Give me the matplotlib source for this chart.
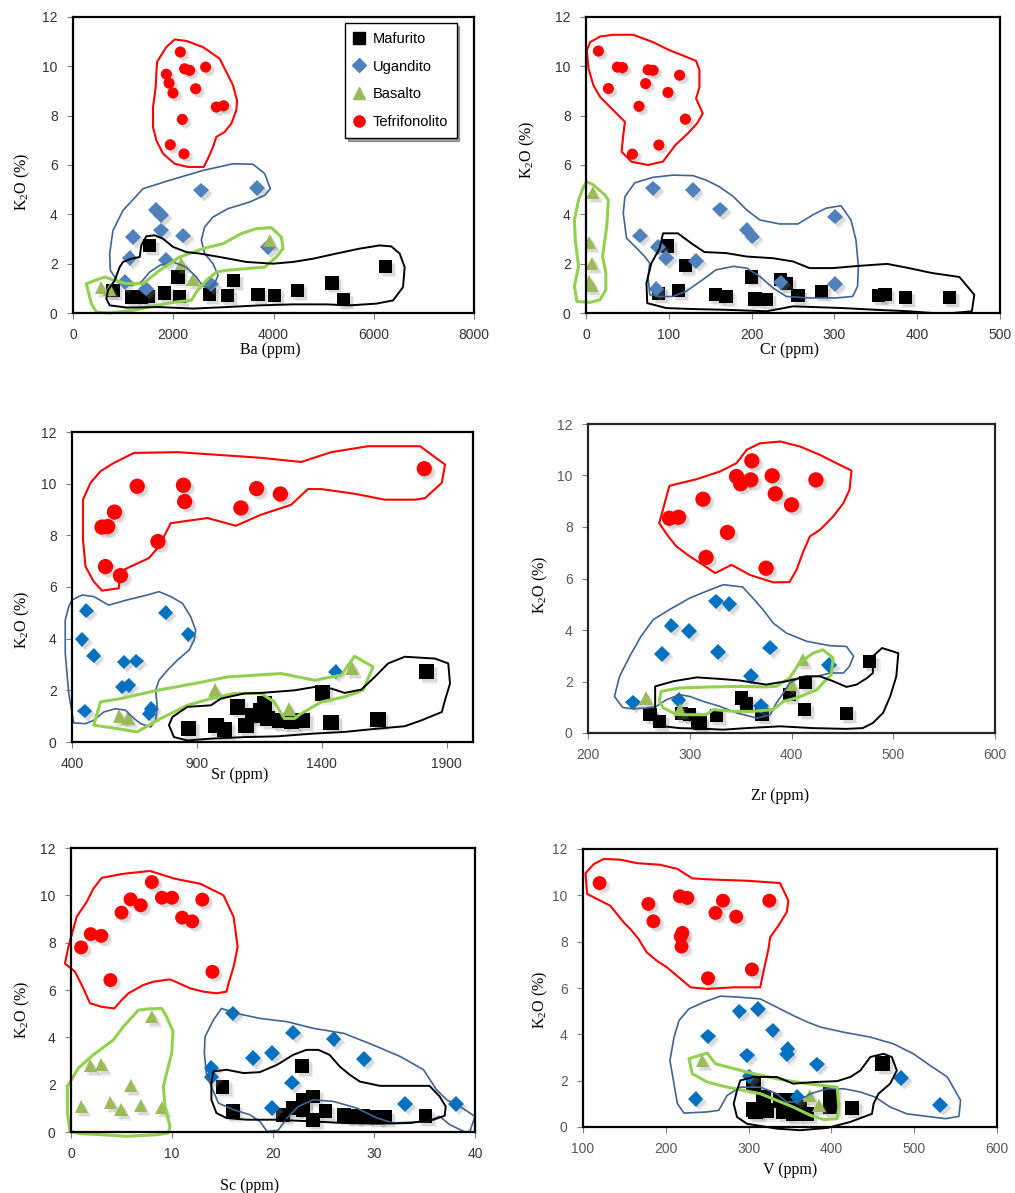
import matplotlib
matplotlib.use('Agg')
import matplotlib.pyplot as plt
import matplotlib.patheffects as pe
from matplotlib.patches import Polygon
from matplotlib.lines import Line2D

plt.rcParams['font.family'] = 'Liberation Sans'
plt.rcParams['mathtext.fontset'] = 'custom'
plt.rcParams['mathtext.rm'] = 'Liberation Serif'

# ---------------- Ba panel ----------------
ba_mafurito = [(1529, 2.74), (798, 0.92), (1164, 0.65), (1363, 0.65), (1496, 0.68), (1829, 0.81),
               (2094, 1.46), (2128, 0.68), (2726, 0.76), (3078, 0.72), (3205, 1.32), (3690, 0.76),
               (4023, 0.72), (4475, 0.92), (5166, 1.22), (5399, 0.54), (6237, 1.89)]
ba_ugandito = [(2560, 4.97), (3677, 5.07), (1662, 4.19), (1762, 3.96), (1762, 3.35), (1197, 3.08),
               (2194, 3.14), (1130, 2.23), (1862, 2.14), (1031, 1.26), (1463, 0.99), (2759, 1.16),
               (3890, 2.68)]
ba_basalto = [(565, 1.03), (731, 0.95), (2161, 2.0), (2394, 1.35), (3923, 2.95)]
ba_tefri = [(2141, 10.58), (2227, 9.9), (2327, 9.84), (2646, 9.97), (1862, 9.68), (1915, 9.32),
            (1995, 8.92), (2447, 9.09), (2859, 8.35), (3005, 8.4), (2181, 7.85), (1941, 6.82),
            (2214, 6.45)]
ba_line_red = [(2028, 11.09), (2261, 11.03), (2594, 10.78), (2926, 10.31), (3059, 9.77), (3192, 9.23),
               (3272, 8.62), (3259, 8.22), (3159, 7.68), (3026, 7.34), (2860, 7.14), (2793, 6.73),
               (2693, 6.26), (2607, 5.92), (2294, 5.92), (2028, 6.05), (1796, 6.46), (1663, 7.0),
               (1596, 7.54), (1596, 8.35), (1649, 9.16), (1676, 10.18), (1862, 10.78)]
ba_line_blue = [(1397, 5.04), (1929, 5.38), (2594, 5.78), (3192, 6.05), (3591, 6.03), (3824, 5.65),
                (3937, 5.04), (3824, 4.77), (3525, 4.5), (3092, 4.23), (2793, 3.89), (2627, 3.49),
                (2560, 2.95), (2627, 2.41), (2793, 2.0), (2893, 1.53), (2826, 1.19), (2727, 0.99),
                (2594, 1.08), (2461, 1.46), (2261, 1.86), (1995, 2.07), (1729, 1.93), (1530, 1.66),
                (1363, 1.26), (1164, 1.12), (898, 1.26), (745, 1.73), (731, 2.41), (798, 3.35),
                (998, 4.16)]
ba_line_green = [(266, 1.19), (632, 1.46), (831, 1.32), (1064, 1.19), (1397, 1.19), (1729, 1.73),
                 (2128, 2.27), (2594, 2.61), (2993, 2.81), (3358, 3.22), (3658, 3.42), (3957, 3.46),
                 (4156, 3.08), (4190, 2.61), (4057, 2.27), (3824, 1.86), (3458, 1.80), (3059, 1.73),
                 (2860, 1.66), (2660, 1.32), (2461, 0.85), (2361, 0.51), (2062, 0.45), (1663, 0.31),
                 (1197, 0.11), (731, 0.0), (466, 0.04), (366, 0.38)]
ba_line_black = [(665, 0.58), (731, 0.31), (1064, 0.22), (1729, 0.24), (2394, 0.18), (3059, 0.24),
                 (3724, 0.31), (4389, 0.35), (5054, 0.35), (5520, 0.31), (6052, 0.38), (6384, 0.51),
                 (6584, 1.05), (6617, 1.86), (6517, 2.41), (6351, 2.70), (6118, 2.74), (5719, 2.61),
                 (5254, 2.41), (4788, 2.20), (4389, 2.07), (3990, 2.0), (3458, 2.07), (2926, 2.27),
                 (2527, 2.41), (2261, 2.47), (1995, 2.68), (1796, 3.01), (1629, 3.15), (1463, 3.11),
                 (1363, 2.74), (1330, 2.27), (1164, 2.20), (998, 2.07), (931, 1.86), (831, 1.32),
                 (698, 0.92)]

# ---------------- Cr panel ----------------
cr_mafurito = [(98, 2.72), (120, 1.91), (112, 0.9), (88, 0.8), (156, 0.74), (169, 0.67), (200, 1.46),
               (204, 0.57), (218, 0.54), (235, 1.35), (242, 1.19), (256, 0.7), (284, 0.88), (353, 0.7),
               (361, 0.74), (386, 0.63), (439, 0.63)]
cr_ugandito = [(81, 5.05), (129, 4.99), (162, 4.2), (194, 3.37), (201, 3.1), (301, 3.91), (65, 3.14),
               (87, 2.67), (97, 2.22), (133, 2.12), (85, 0.97), (235, 1.24), (301, 1.17)]
cr_basalto = [(8, 4.88), (4, 2.87), (7, 2.02), (4, 1.28), (6, 1.1)]
cr_tefri = [(15, 10.62), (38, 9.97), (44, 9.95), (75, 9.86), (81, 9.84), (113, 9.64), (27, 9.1),
            (72, 9.3), (99, 8.94), (64, 8.38), (120, 7.86), (88, 6.81), (56, 6.44)]
cr_line_red = [(1, 10.65), (5, 10.98), (17, 11.21), (33, 11.28), (57, 11.28), (81, 10.98), (101, 10.65),
               (117, 10.44), (133, 10.22), (137, 9.84), (137, 9.16), (133, 8.69), (141, 8.09),
               (134, 7.68), (123, 7.28), (108, 6.81), (93, 6.14), (75, 6.0), (55, 6.13), (43, 6.54),
               (45, 7.21), (47, 7.75), (33, 8.22), (17, 8.76), (9, 9.23), (3, 9.91)]
cr_line_blue = [(47, 4.72), (59, 5.28), (81, 5.5), (105, 5.59), (129, 5.57), (145, 5.39), (161, 5.12),
                (178, 4.72), (194, 4.18), (210, 3.77), (234, 3.61), (256, 3.61), (274, 3.98),
                (290, 4.25), (308, 4.35), (320, 3.77), (326, 2.96), (329, 1.89), (328, 1.08),
                (322, 0.67), (302, 0.61), (270, 0.61), (242, 0.67), (226, 1.01), (210, 1.48),
                (194, 1.82), (178, 1.89), (157, 1.75), (141, 1.35), (121, 0.88), (105, 0.67),
                (89, 0.67), (77, 0.74), (75, 1.48), (77, 2.02), (71, 2.29), (59, 2.7), (49, 3.03),
                (45, 4.04)]
cr_line_green = [(1, 5.32), (9, 5.19), (23, 4.78), (27, 4.58), (25, 3.5), (20, 2.29), (24, 1.62),
                 (24, 0.94), (17, 0.54), (5, 0.43), (-11, 0.47), (-14, 1.08), (-9, 1.89), (-13, 2.96),
                 (-14, 3.77), (-9, 4.58), (-3, 5.12)]
cr_line_black = [(89, 2.63), (93, 3.23), (111, 3.23), (127, 2.83), (143, 2.47), (169, 2.43),
                 (194, 2.29), (226, 2.22), (250, 2.09), (270, 1.82), (298, 1.82), (322, 1.89),
                 (346, 1.95), (364, 1.99), (390, 1.82), (418, 1.62), (451, 1.46), (469, 0.74),
                 (466, 0.07), (443, 0.0), (418, 0.0), (390, 0.07), (350, 0.13), (310, 0.2), (250, 0.27),
                 (218, 0.07), (169, 0.13), (129, 0.16), (97, 0.2), (74, 0.4), (73, 1.21), (79, 2.02)]

# ---------------- Sr panel ----------------
sr_mafurito = [(1819, 2.72), (1404, 1.9), (1625, 0.88), (1437, 0.75), (1324, 0.84), (1278, 0.78),
               (1231, 0.84), (1183, 0.91), (1157, 1.23), (1170, 1.49), (1123, 1.03), (1096, 0.65),
               (1063, 1.36), (1009, 0.49), (976, 0.65), (866, 0.52)]
sr_ugandito = [(458, 5.08), (775, 5.0), (865, 4.17), (440, 3.97), (487, 3.34), (608, 3.1), (658, 3.14),
               (601, 2.13), (627, 2.2), (451, 1.2), (708, 1.1), (717, 1.29), (1455, 2.72)]
sr_basalto = [(590, 1.0), (623, 0.94), (972, 2.0), (1268, 1.29), (1521, 2.85)]
sr_tefri = [(1810, 10.58), (661, 9.9), (846, 9.94), (851, 9.31), (1139, 9.81), (1234, 9.6), (1076, 9.06),
            (570, 8.9), (520, 8.32), (543, 8.34), (744, 7.76), (534, 6.79), (594, 6.44)]
sr_line_red = [(444, 9.38), (474, 10.03), (514, 10.48), (567, 10.8), (648, 11.19), (822, 11.22),
               (1023, 11.09), (1157, 11.0), (1317, 10.84), (1438, 11.22), (1585, 11.45), (1793, 11.45),
               (1893, 10.74), (1880, 10.03), (1813, 9.44), (1773, 9.38), (1652, 9.38), (1531, 9.61),
               (1398, 9.79), (1344, 9.79), (1277, 9.18), (1157, 8.8), (1056, 8.37), (942, 8.67),
               (795, 8.47), (748, 7.57), (708, 7.12), (634, 6.79), (594, 6.6), (587, 5.95), (520, 5.86),
               (487, 6.21), (454, 6.79), (444, 7.83)]
sr_line_blue = [(400, 5.5), (440, 5.69), (487, 5.63), (547, 5.3), (621, 5.5), (701, 5.69), (748, 5.82),
                (795, 5.63), (842, 5.37), (875, 4.85), (895, 4.33), (889, 3.95), (869, 3.56), (822, 3.17),
                (782, 2.78), (748, 2.39), (735, 2.01), (741, 1.36), (735, 0.84), (715, 0.58), (675, 0.71),
                (648, 0.91), (614, 1.23), (574, 1.29), (527, 1.16), (487, 0.84), (454, 0.71), (407, 0.74),
                (387, 1.88), (373, 3.43), (373, 4.72), (387, 5.24)]
sr_line_green = [(487, 0.65), (514, 1.55), (594, 1.68), (741, 2.0), (889, 2.26), (1023, 2.52),
                 (1237, 2.65), (1371, 2.39), (1478, 2.59), (1531, 3.32), (1605, 2.91), (1565, 2.0),
                 (1491, 1.75), (1398, 1.55), (1317, 1.1), (1290, 0.91), (1250, 0.91), (1210, 1.55),
                 (1157, 1.88), (1049, 1.88), (956, 1.68), (862, 1.42), (755, 0.91), (661, 0.39),
                 (581, 0.52)]
sr_line_black = [(788, 0.65), (802, 0.97), (862, 1.36), (956, 1.42), (996, 1.68), (1090, 1.88),
                 (1157, 1.9), (1290, 2.0), (1371, 2.13), (1438, 2.07), (1491, 1.9), (1558, 2.03),
                 (1612, 2.52), (1665, 3.04), (1732, 3.3), (1853, 3.23), (1906, 3.04), (1913, 2.26),
                 (1893, 1.62), (1880, 1.16), (1799, 0.84), (1732, 0.61), (1625, 0.52), (1491, 0.39),
                 (1357, 0.32), (1223, 0.22), (1090, 0.19), (956, 0.13), (862, 0.06), (808, 0.19)]

# ---------------- Zr panel ----------------
zr_mafurito = [(261, 0.71), (270, 0.45), (292, 0.75), (300, 0.71), (308, 0.45), (310, 0.39), (326, 0.67),
               (351, 1.36), (356, 1.16), (371, 0.71), (398, 1.49), (414, 1.97), (413, 0.91), (454, 0.75),
               (477, 2.78)]
zr_ugandito = [(326, 5.11), (339, 5.01), (282, 4.17), (299, 3.95), (273, 3.08), (328, 3.14), (379, 3.32),
               (360, 2.2), (437, 2.65), (244, 1.19), (289, 1.27), (370, 1.06)]
zr_basalto = [(257, 1.36), (290, 0.91), (411, 2.85), (400, 1.9)]
zr_tefri = [(361, 10.57), (346, 9.96), (350, 9.68), (360, 9.83), (381, 9.99), (424, 9.83), (384, 9.29),
            (400, 8.86), (313, 9.08), (280, 8.34), (289, 8.38), (337, 7.79), (316, 6.82), (375, 6.4)]
zr_line_red = [(270, 8.15), (280, 9.6), (307, 9.86), (330, 10.16), (346, 10.48), (356, 11.0), (369, 11.25),
               (389, 11.32), (408, 11.13), (428, 10.8), (444, 10.48), (459, 10.19), (457, 9.44),
               (451, 8.93), (441, 8.41), (428, 7.89), (418, 7.63), (411, 6.99), (405, 6.34), (398, 5.86),
               (382, 5.85), (359, 6.14), (341, 6.53), (325, 6.21), (313, 6.53), (300, 6.86), (287, 7.24),
               (279, 7.63)]
zr_line_blue = [(226, 1.42), (231, 2.2), (241, 2.98), (252, 3.75), (264, 4.4), (280, 4.79), (300, 5.24),
                (316, 5.5), (333, 5.76), (352, 5.67), (362, 5.24), (372, 4.79), (382, 4.27), (395, 3.88),
                (415, 3.56), (438, 3.39), (454, 3.36), (461, 2.98), (457, 2.59), (451, 2.33), (438, 2.33),
                (425, 2.2), (411, 2.2), (398, 1.94), (392, 1.55), (385, 1.16), (379, 0.71), (366, 0.58),
                (346, 0.78), (330, 1.03), (313, 1.23), (300, 1.42), (290, 1.49), (277, 1.29), (267, 1.03),
                (257, 0.97), (244, 0.94), (234, 0.99)]
zr_line_green = [(272, 1.62), (290, 1.75), (323, 1.79), (349, 1.81), (372, 1.79), (385, 1.81), (398, 2.13),
                 (408, 2.72), (421, 3.1), (431, 3.23), (441, 2.91), (439, 2.26), (431, 1.94), (425, 1.68),
                 (405, 1.36), (392, 1.23), (382, 0.91), (362, 0.84), (343, 0.84), (323, 0.91), (316, 0.71),
                 (293, 0.71), (284, 0.78), (274, 0.97), (270, 1.23)]
zr_line_black = [(266, 1.81), (284, 2.01), (307, 2.16), (330, 2.1), (349, 2.04), (375, 1.88), (395, 2.01),
                 (415, 2.2), (428, 2.2), (441, 2.01), (454, 1.79), (464, 1.88), (474, 2.13), (480, 2.33),
                 (480, 2.98), (489, 3.3), (505, 3.1), (503, 2.2), (497, 1.42), (490, 0.78), (480, 0.39),
                 (470, 0.19), (454, 0.16), (421, 0.19), (389, 0.26), (356, 0.19), (333, 0.13), (316, 0.16),
                 (290, 0.19), (270, 0.28), (266, 0.91)]

# ---------------- Sc panel ----------------
sc_mafurito = [(22.9, 2.77), (15.0, 1.92), (16.0, 0.87), (21.0, 0.73), (22.0, 1.01), (23.0, 1.36),
               (24.0, 1.5), (24.0, 0.52), (25.2, 0.87), (23.0, 0.94), (27.0, 0.73), (27.9, 0.66),
               (28.9, 0.66), (30.1, 0.63), (31.1, 0.63), (35.1, 0.66)]
sc_ugandito = [(16.0, 5.01), (22.0, 4.2), (26.0, 3.92), (18.0, 3.12), (19.9, 3.33), (29.0, 3.08),
               (13.9, 2.7), (13.9, 2.32), (21.9, 2.09), (19.9, 1.01), (33.1, 1.19), (38.1, 1.19)]
sc_basalto = [(8.0, 4.87), (1.9, 2.8), (3.0, 2.84), (5.9, 1.97), (1.0, 1.08), (3.9, 1.25), (4.95, 0.94),
              (6.9, 1.11), (9.0, 1.05)]
sc_tefri = [(8.0, 10.56), (5.9, 9.83), (6.9, 9.58), (9.0, 9.9), (10.0, 9.9), (13.0, 9.82), (5.0, 9.27),
            (11.0, 9.06), (12.0, 8.9), (1.95, 8.36), (3.0, 8.29), (1.0, 7.8), (3.9, 6.42), (14.0, 6.77)]
sc_line_red = [(-0.6, 7.12), (-0.26, 7.82), (0.56, 9.09), (1.55, 9.72), (2.21, 10.28), (3.04, 10.74),
               (5.18, 10.91), (7.82, 11.03), (10.3, 10.7), (12.8, 10.49), (15.1, 10.0), (16.1, 9.09),
               (16.5, 7.82), (16.1, 6.98), (15.6, 6.28), (15.4, 5.93), (14.4, 5.86), (13.1, 5.93),
               (11.8, 6.07), (10.5, 6.32), (9.8, 6.45), (8.15, 6.35), (7.16, 6.21), (5.68, 5.86),
               (5.02, 5.58), (4.29, 5.22), (3.04, 5.29), (1.88, 5.44), (1.22, 6.07), (0.4, 6.77)]
sc_line_blue = [(13.27, 4.03), (14.1, 4.73), (14.9, 5.22), (16.4, 5.01), (18.7, 4.8), (21.4, 4.66),
                (24.0, 4.38), (27.0, 4.17), (29.9, 3.68), (32.6, 3.19), (34.9, 2.63), (36.2, 1.78),
                (37.2, 1.36), (38.5, 1.08), (40.0, 0.66), (39.5, 0.03), (39.0, 0.0), (37.5, 0.31),
                (36.5, 0.66), (35.2, 0.45), (31.9, 0.38), (30.3, 0.59), (28.3, 1.01), (26.0, 1.29),
                (24.0, 1.36), (22.5, 1.08), (21.4, 0.59), (20.5, 0.07), (19.4, 0.03), (18.7, 0.45),
                (17.7, 0.73), (16.1, 0.94), (14.6, 1.22), (13.9, 1.92), (13.4, 2.49), (13.2, 3.33)]
sc_line_green = [(6.67, 5.15), (7.66, 5.2), (8.98, 5.22), (9.47, 4.87), (10.1, 4.24), (9.97, 3.33),
                 (9.47, 2.49), (9.14, 1.92), (9.31, 1.08), (9.8, 0.24), (9.64, -0.04), (8.8, -0.11),
                 (5.5, -0.18), (2.87, -0.11), (0.89, -0.07), (-0.1, 0.03), (-0.36, 0.8), (-0.36, 1.92),
                 (0.73, 2.7), (2.21, 3.26), (4.19, 3.89), (5.18, 4.45)]
sc_line_black = [(14.1, 2.56), (15.4, 2.63), (17.1, 2.49), (18.7, 2.53), (20.4, 2.84), (22.0, 3.26),
                 (23.3, 3.47), (24.5, 3.47), (25.6, 3.26), (26.6, 2.77), (27.6, 2.42), (28.6, 2.13),
                 (30.6, 1.95), (35.5, 1.95), (36.5, 1.5), (37.1, 1.08), (37.0, 0.69), (35.9, 0.52),
                 (33.6, 0.38), (30.3, 0.35), (27.0, 0.38), (23.7, 0.45), (20.4, 0.52), (17.4, 0.52),
                 (15.4, 0.59), (14.4, 0.8), (13.9, 1.36), (13.9, 2.06)]

# ---------------- V panel ----------------
v_mafurito = [(462, 2.73), (306, 1.87), (306, 0.75), (318, 1.29), (338, 1.15), (346, 1.15), (322, 0.72),
              (342, 0.65), (354, 0.57), (370, 0.57), (399, 1.44), (399, 0.86), (425, 0.82), (308, 0.65),
              (362, 0.86)]
v_ugandito = [(289, 4.99), (311, 5.1), (329, 4.17), (251, 3.91), (298, 3.09), (347, 3.38), (346, 3.13),
              (383, 2.7), (301, 2.18), (484, 2.11), (236, 1.22), (359, 1.29), (531, 0.96)]
v_basalto = [(244, 2.87), (374, 1.36), (385, 0.93)]
v_tefri = [(120, 10.53), (179, 9.63), (185, 8.88), (217, 9.96), (226, 9.89), (269, 9.77), (325, 9.77),
           (260, 9.24), (285, 9.08), (220, 8.38), (218, 8.22), (219, 7.79), (304, 6.8), (251, 6.42)]
v_line_red = [(103, 10.95), (113, 11.35), (125, 11.57), (145, 11.54), (165, 11.39), (193, 11.32),
              (214, 11.14), (232, 10.73), (258, 10.68), (298, 10.63), (338, 10.53), (348, 9.77),
              (346, 9.27), (336, 8.69), (326, 8.19), (324, 7.69), (320, 7.04), (314, 6.03), (282, 6.03),
              (250, 5.96), (230, 6.03), (218, 6.39), (201, 6.9), (189, 7.18), (177, 7.54), (167, 8.12),
              (157, 8.55), (149, 8.84), (133, 9.55), (121, 9.77), (105, 10.06)]
v_line_blue = [(216, 4.6), (228, 5.1), (246, 5.39), (266, 5.65), (290, 5.6), (314, 5.53), (334, 5.17),
               (354, 4.81), (371, 4.53), (387, 4.31), (415, 4.09), (447, 3.88), (475, 3.59), (499, 3.16),
               (519, 2.66), (540, 2.16), (556, 1.15), (554, 0.46), (538, 0.36), (515, 0.46), (491, 0.57),
               (471, 0.86), (453, 1.29), (435, 1.51), (415, 1.65), (395, 1.65), (375, 1.44), (358, 1.08),
               (346, 1.08), (334, 1.44), (314, 1.72), (290, 1.72), (274, 1.36), (264, 0.72), (250, 0.65),
               (222, 0.6), (214, 1.01), (205, 2.87), (210, 3.88)]
v_line_green = [(228, 2.95), (250, 3.19), (260, 2.73), (298, 2.37), (334, 2.08), (371, 1.87), (407, 1.72),
                (409, 0.86), (407, 0.36), (391, 0.32), (375, 0.5), (354, 0.86), (314, 1.44), (274, 1.72),
                (250, 1.94), (232, 2.3)]
v_line_black = [(286, 1.58), (290, 2.01), (306, 2.16), (334, 2.16), (354, 1.87), (379, 1.94), (407, 1.98),
                (423, 2.16), (435, 2.44), (447, 3.02), (463, 3.16), (473, 3.02), (479, 2.44), (471, 1.87),
                (457, 1.44), (451, 1.01), (449, 0.57), (423, 0.22), (395, -0.04), (362, -0.14), (334, -0.07),
                (298, 0.14), (286, 0.43), (282, 1.01)]

labels = ['Mafurito', 'Ugandito', 'Basalto', 'Tefrifonolito']

# figure pixel geometry (left, right, top, bottom)
W, H = 1015, 1193
fig = plt.figure(figsize=(W / 100, H / 100), dpi=100)

shadow = [pe.SimplePatchShadow(offset=(3, -3), shadow_rgbFace='0.6', alpha=0.15),
          pe.SimplePatchShadow(offset=(2, -2), shadow_rgbFace='0.5', alpha=0.2),
          pe.Normal()]


def make_axes(l, r, t, b):
    return fig.add_axes([l / W, 1 - b / H, (r - l) / W, (b - t) / H])


def draw(ax, groups, lines, xlim, xticks, blue, sizes, tick_color, frame='black'):
    maf, uga, bas, tef = groups
    specs = [(maf, 's', 'black', sizes[0]), (uga, 'D', blue, sizes[1]),
             (bas, '^', '#9BBB59', sizes[2]), (tef, 'o', '#FF0000', sizes[3])]
    for pts, m, c, s in specs:
        xs = [p[0] for p in pts]
        ys = [p[1] for p in pts]
        ax.plot(xs, ys, linestyle='none', marker=m, color=c, markersize=s,
                markeredgewidth=0, zorder=3, path_effects=shadow)
    for pts, c, lw in zip(lines, ['#FF0000', '#3F6493', '#92D050', 'black'], [1.5, 1.2, 2.2, 1.4]):
        ax.add_patch(Polygon(pts, closed=True, fill=False, edgecolor=c, linewidth=lw,
                             joinstyle='round', zorder=4, clip_on=False))
    ax.set_xlim(*xlim)
    ax.set_ylim(0, 12)
    ax.set_xticks(xticks)
    ax.set_yticks(range(0, 13, 2))
    ax.tick_params(direction='out', length=4, width=0.8, color='#808080',
                   labelsize=10, labelcolor=tick_color, pad=7)
    for sp in ax.spines.values():
        sp.set_linewidth(1.6)
        sp.set_color(frame)
        sp.set_zorder(5)


def label(x, y, text, rot=0):
    fig.text(x / W, 1 - y / H, text, rotation=rot, ha='center', va='center',
             family='Liberation Serif', fontsize=11.5, color='black')


ylab = r'K$_{\mathregular{2}}$O (%)'

ax1 = make_axes(73, 474, 17, 313)
draw(ax1, (ba_mafurito, ba_ugandito, ba_basalto, ba_tefri),
     (ba_line_red, ba_line_blue, ba_line_green, ba_line_black),
     (0, 8000), range(0, 8001, 2000), '#4F81BD', (9.5, 8, 9.5, 8), '#333333')
label(270, 350, 'Ba (ppm)')
label(22, 182, ylab, 90)

handles = [Line2D([], [], linestyle='none', marker='s', color='black', markersize=8),
           Line2D([], [], linestyle='none', marker='D', color='#4F81BD', markersize=7),
           Line2D([], [], linestyle='none', marker='^', color='#9BBB59', markersize=8),
           Line2D([], [], linestyle='none', marker='o', color='#FF0000', markersize=8)]
leg = ax1.legend(handles, labels, loc='upper left', bbox_to_anchor=(0.678, 0.98),
                 fontsize=10.5, frameon=True, fancybox=False, shadow=True, labelspacing=0.95,
                 handlelength=0.8, handletextpad=0.5, borderpad=0.6, borderaxespad=0)
leg.get_frame().set_edgecolor('black')
leg.get_frame().set_linewidth(1.0)
leg.set_zorder(6)

ax2 = make_axes(586, 1000, 17, 313)
draw(ax2, (cr_mafurito, cr_ugandito, cr_basalto, cr_tefri),
     (cr_line_red, cr_line_blue, cr_line_green, cr_line_black),
     (0, 500), range(0, 501, 100), '#4F81BD', (9.5, 8, 9.5, 8), '#333333')
label(790, 350, 'Cr (ppm)')
label(527, 150, ylab, 90)

ax3 = make_axes(72, 473, 432, 742)
draw(ax3, (sr_mafurito, sr_ugandito, sr_basalto, sr_tefri),
     (sr_line_red, sr_line_blue, sr_line_green, sr_line_black),
     (400, 2005), [400, 900, 1400, 1900], '#0070C0', (11, 7.5, 10, 11), '#333333')
label(240, 775, 'Sr (ppm)')
label(22, 620, ylab, 90)

ax4 = make_axes(588, 995, 424, 733)
draw(ax4, (zr_mafurito, zr_ugandito, zr_basalto, zr_tefri),
     (zr_line_red, zr_line_blue, zr_line_green, zr_line_black),
     (200, 600), range(200, 601, 100), '#0070C0', (9.5, 8, 9.5, 11), '#595959', frame='#262626')
label(780, 796, 'Zr (ppm)')
label(540, 585, ylab, 90)

ax5 = make_axes(71, 475, 848, 1132)
draw(ax5, (sc_mafurito, sc_ugandito, sc_basalto, sc_tefri),
     (sc_line_red, sc_line_blue, sc_line_green, sc_line_black),
     (0, 40), range(0, 41, 10), '#0070C0', (10, 8, 9.5, 10), '#333333')
label(250, 1186, 'Sc (ppm)')
label(22, 1010, ylab, 90)

ax6 = make_axes(583, 997, 849, 1127)
draw(ax6, (v_mafurito, v_ugandito, v_basalto, v_tefri),
     (v_line_red, v_line_blue, v_line_green, v_line_black),
     (100, 600), range(100, 601, 100), '#0070C0', (10.5, 8, 9.5, 10), '#595959')
label(790, 1170, 'V (ppm)')
label(540, 1000, ylab, 90)

fig.savefig('out.png', dpi=100)
